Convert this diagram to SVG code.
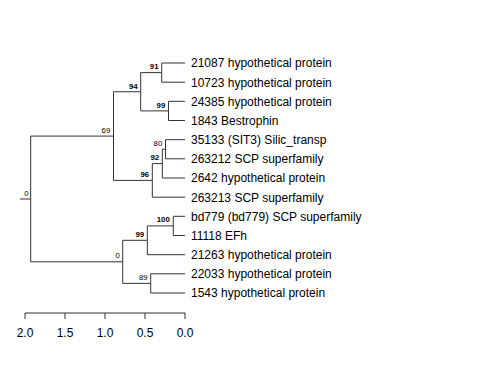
<svg xmlns="http://www.w3.org/2000/svg" width="480" height="384" viewBox="0 0 480 384">
<style>
.e{fill:none;stroke:#333;stroke-width:1}
.tip{font-family:"Liberation Sans",Arial,sans-serif;font-size:12px;fill:#000}
.nl{font-family:"Liberation Sans",Arial,sans-serif;font-size:7.8px;fill:#000;text-anchor:end}
.b{font-weight:bold}
.ax{font-family:"Liberation Sans",Arial,sans-serif;font-size:12px;fill:#000;text-anchor:middle}
</style>
<rect width="480" height="384" fill="#fff"/>
<g id="connectors">
<path class="e" d="M20 199 H30.7"/>
<path class="e" d="M30.7 199 V136.1 H113.5"/>
<path class="e" d="M30.7 199 V261.8 H122.7"/>
<path class="e" d="M113.5 136.1 V91.75 H140.7"/>
<path class="e" d="M113.5 136.1 V180.4 H152.3"/>
<path class="e" d="M140.7 91.75 V72.6 H161.7"/>
<path class="e" d="M140.7 91.75 V110.9 H168.5"/>
<path class="e" d="M161.7 72.6 V63 H185"/>
<path class="e" d="M161.7 72.6 V82.2 H185"/>
<path class="e" d="M168.5 110.9 V101.3 H185"/>
<path class="e" d="M168.5 110.9 V120.5 H185"/>
<path class="e" d="M152.3 180.4 V163.6 H162.3"/>
<path class="e" d="M152.3 180.4 V197.2 H185"/>
<path class="e" d="M162.3 163.6 V149.25 H165.5"/>
<path class="e" d="M162.3 163.6 V178 H185"/>
<path class="e" d="M165.5 149.25 V139.7 H185"/>
<path class="e" d="M165.5 149.25 V158.8 H185"/>
<path class="e" d="M122.7 261.8 V240.3 H147.3"/>
<path class="e" d="M122.7 261.8 V283.4 H150.7"/>
<path class="e" d="M147.3 240.3 V225.9 H173.3"/>
<path class="e" d="M147.3 240.3 V254.7 H185"/>
<path class="e" d="M173.3 225.9 V216.3 H185"/>
<path class="e" d="M173.3 225.9 V235.5 H185"/>
<path class="e" d="M150.7 283.4 V273.8 H185"/>
<path class="e" d="M150.7 283.4 V293 H185"/>
</g>
<g id="node-root"><text class="nl" x="28.7" y="195.7">0</text></g>
<g id="node-69"><text class="nl" x="110.3" y="132.6">69</text></g>
<g id="node-94"><text class="nl b" x="137.7" y="88.5">94</text></g>
<g id="node-91"><text class="nl b" x="158.5" y="69.2">91</text></g>
<g id="node-99a"><text class="nl b" x="165.3" y="107.5">99</text></g>
<g id="node-96"><text class="nl b" x="149.2" y="177">96</text></g>
<g id="node-92"><text class="nl b" x="159.2" y="160.2">92</text></g>
<g id="node-80"><text class="nl" x="162.3" y="145.8">80</text></g>
<g id="node-0b"><text class="nl" x="119.8" y="258.4">0</text></g>
<g id="node-99b"><text class="nl b" x="144.2" y="236.9">99</text></g>
<g id="node-100"><text class="nl b" x="169.8" y="222.3">100</text></g>
<g id="node-89"><text class="nl" x="147.6" y="280">89</text></g>
<g id="tip-21087"><text class="tip" x="191" y="67.3">21087 hypothetical protein</text></g>
<g id="tip-10723"><text class="tip" x="191" y="86.5">10723 hypothetical protein</text></g>
<g id="tip-24385"><text class="tip" x="191" y="105.6">24385 hypothetical protein</text></g>
<g id="tip-1843"><text class="tip" x="191" y="124.8">1843 Bestrophin</text></g>
<g id="tip-35133"><text class="tip" x="191" y="144">35133 (SIT3) Silic_transp</text></g>
<g id="tip-263212"><text class="tip" x="191" y="163.1">263212 SCP superfamily</text></g>
<g id="tip-2642"><text class="tip" x="191" y="182.3">2642 hypothetical protein</text></g>
<g id="tip-263213"><text class="tip" x="191" y="201.5">263213 SCP superfamily</text></g>
<g id="tip-bd779"><text class="tip" x="191" y="220.6">bd779 (bd779) SCP superfamily</text></g>
<g id="tip-11118"><text class="tip" x="191" y="239.8">11118 EFh</text></g>
<g id="tip-21263"><text class="tip" x="191" y="259">21263 hypothetical protein</text></g>
<g id="tip-22033"><text class="tip" x="191" y="278.1">22033 hypothetical protein</text></g>
<g id="tip-1543"><text class="tip" x="191" y="297.3">1543 hypothetical protein</text></g>
<g id="axis">
<path class="e" d="M25 313 H185 M25 313 V319 M65 313 V319 M105 313 V319 M145 313 V319 M185 313 V319"/>
<text class="ax" x="25" y="337">2.0</text>
<text class="ax" x="65" y="337">1.5</text>
<text class="ax" x="105" y="337">1.0</text>
<text class="ax" x="145" y="337">0.5</text>
<text class="ax" x="185" y="337">0.0</text>
</g>
</svg>
